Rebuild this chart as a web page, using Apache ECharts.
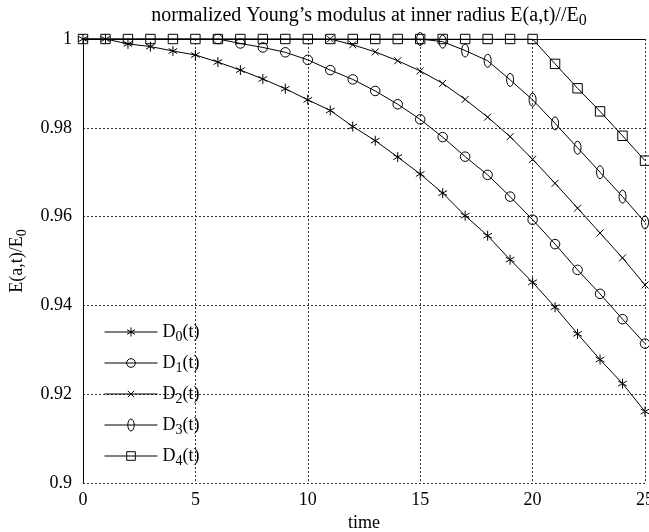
<!DOCTYPE html>
<html><head><meta charset="utf-8">
<script src="https://cdn.jsdelivr.net/npm/echarts@6/dist/echarts.min.js"></script>
<style>html,body{margin:0;padding:0;background:#fff}#c{width:649px;height:532px}</style>
</head><body><div id="c"></div>
<script>
const times = [0,1,2,3,4,5,6,7,8,9,10,11,12,13,14,15,16,17,18,19,20,21,22,23,24,25];
const seriesNames = ['D0(t)','D1(t)','D2(t)','D3(t)','D4(t)'];
const onsets = [0, 6, 11, 15, 0];
const d0 = [1,1,0.9989,0.9983,0.9973,0.9964,0.9948,0.9930,0.9910,0.9888,0.9863,0.9839,0.9803,0.9771,0.9734,0.9696,0.9653,0.9602,0.9557,0.9503,0.9452,0.9396,0.9336,0.9278,0.9224,0.9161];
const d1 = [1,1,1,1,1,1,1,0.9990,0.9981,0.9970,0.9953,0.9930,0.9909,0.9883,0.9853,0.9819,0.9779,0.9735,0.9694,0.9645,0.9593,0.9538,0.9480,0.9426,0.9369,0.9314];
const d2 = [1,1,1,1,1,1,1,1,1,1,1,1,0.9987,0.9971,0.9951,0.9928,0.9900,0.9864,0.9824,0.9780,0.9729,0.9675,0.9619,0.9563,0.9507,0.9446];
const d3 = [1,1,1,1,1,1,1,1,1,1,1,1,1,1,1,1,0.9994,0.9974,0.9951,0.9908,0.9863,0.9810,0.9755,0.9700,0.9645,0.9587];
const d4 = [1,1,1,1,1,1,1,1,1,1,1,1,1,1,1,1,1,1,1,1,1,0.9944,0.9889,0.9837,0.9782,0.9726];
const yTicks = [0.9,0.92,0.94,0.96,0.98,1];
const xTicks = [0,5,10,15,20,25];

const FONT = 'Liberation Serif';
// every path sits in an invisible 14x14 box (corner moveTo points) so sizes stay relative
const BOX = 'M-7,-7M7,7';
const symbols = [
  'path://' + BOX + 'M0,-5L0,5M-4.33,-2.5L4.33,2.5M-4.33,2.5L4.33,-2.5',
  'path://' + BOX + 'M0,-4.75A4.75,4.75 0 1,1 0,4.75A4.75,4.75 0 1,1 0,-4.75Z',
  'path://' + BOX + 'M-3.5,-3.5L3.5,3.5M-3.5,3.5L3.5,-3.5',
  'path://' + BOX + 'M0,-6.5A3.5,6.5 0 1,1 0,6.5A3.5,6.5 0 1,1 0,-6.5Z',
  'path://' + BOX + 'M-4.7,-4.7L4.7,-4.7L4.7,4.7L-4.7,4.7Z'
];
const allData = [d0,d1,d2,d3,d4];

const series = allData.map((d, i) => ({
  name: seriesNames[i],
  type: 'line',
  data: times.map((t, k) => ({
    value: [t, d[k]],
    symbol: t >= onsets[i] ? symbols[i] : 'none'
  })),
  symbol: symbols[i],
  symbolSize: 14,
  showSymbol: true,
  lineStyle: {color: '#000', width: 1},
  itemStyle: {color: 'rgba(0,0,0,0)', borderColor: '#000', borderWidth: 1},
  emphasis: {disabled: true},
  animation: false,
  z: 5 - i
}));

const rich = {
  a: {fontFamily: FONT, fontSize: 18, color: '#000'},
  s: {fontFamily: FONT, fontSize: 14, color: '#000', padding: [10, 0, 0, 0]}
};
const titleRich = {
  a: {fontFamily: FONT, fontSize: 20, color: '#000'},
  s: {fontFamily: FONT, fontSize: 16, color: '#000', padding: [10, 0, 0, 0]}
};

const chart = echarts.init(document.getElementById('c'), null, {renderer: 'canvas'});
chart.setOption({
  animation: false,
  backgroundColor: '#fff',
  title: {
    text: '{a|normalized Young\u2019s modulus at inner radius E(a,t)//E}{s|0}',
    left: 364, top: -2, textAlign: 'center',
    textStyle: {fontWeight: 'normal', rich: titleRich}
  },
  grid: {left: 83, top: 39, right: 4, bottom: 49, containLabel: false, outerBoundsMode: 'none'},
  legend: {
    orient: 'vertical', left: 99, top: 318,
    itemWidth: 53, itemHeight: 16, itemGap: 10,
    data: seriesNames,
    formatter: n => '{a|' + n.slice(0,1) + '}{s|' + n.slice(1,2) + '}{a|' + n.slice(2) + '}',
    textStyle: {rich: rich},
    lineStyle: {width: 1, color: '#000'},
    itemStyle: {color: 'rgba(0,0,0,0)', borderColor: '#000', borderWidth: 1},
    selectedMode: false
  },
  xAxis: [{
    type: 'value', min: 0, max: 25, interval: 5,
    name: 'time', nameLocation: 'middle', nameGap: 28,
    nameTextStyle: {fontFamily: FONT, fontSize: 18, color: '#000'},
    axisLine: {show: false}, axisTick: {show: false},
    axisLabel: {fontFamily: FONT, fontSize: 18, color: '#000', margin: 8},
    splitLine: {show: true, lineStyle: {color: '#333', type: [2, 2], width: 1}}
  }, {
    type: 'value', min: 0, max: 25, position: 'top',
    axisLine: {show: true, lineStyle: {color: '#000', width: 1}},
    axisTick: {show: false}, axisLabel: {show: false}, splitLine: {show: false}
  }],
  yAxis: {
    type: 'value', min: 0.9, max: 1, interval: 0.02,
    name: '{a|E(a,t)/E}{s|0}', nameLocation: 'middle', nameGap: 52, nameRotate: 90,
    nameTextStyle: {rich: rich},
    axisLine: {show: true, lineStyle: {color: '#000', width: 1}}, axisTick: {show: false},
    axisLabel: {fontFamily: FONT, fontSize: 18, color: '#000', margin: 11,
      formatter: v => String(parseFloat(v.toFixed(2)))},
    splitLine: {show: true, lineStyle: {color: '#333', type: [2, 2], width: 1}}
  },
  series: series
});
</script></body></html>
